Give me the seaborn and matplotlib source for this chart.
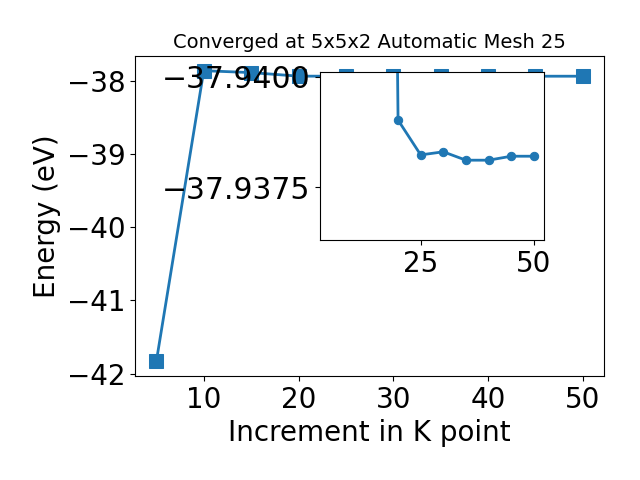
import seaborn as sns
import matplotlib
matplotlib.use("Agg")
import matplotlib.pyplot as plt

# k-point increments and total energies (eV)
kpoints = [5, 10, 15, 20, 25, 30, 35, 40, 45, 50]
energy = [-41.83, -37.864, -37.89, -37.93848, -37.93927, -37.93920,
          -37.93939, -37.93939, -37.93930, -37.93930]

# inset ticks (labels as printed on the chart)
inset_xticks = [25, 50]
inset_yticks = [-37.9375, -37.9400]
inset_yticklabels = ['\u221237.9400', '\u221237.9375']

color = sns.color_palette()[0]

fig = plt.figure(figsize=(6.4, 4.8), dpi=100)
ax = fig.add_axes([0.211, 0.217, 0.733, 0.666])
sns.lineplot(x=kpoints, y=energy, ax=ax, color=color, marker='s',
             markersize=10, linewidth=2, markeredgecolor=color)
ax.set_title("Converged at 5x5x2 Automatic Mesh 25", fontsize=14)
ax.set_xlabel("Increment in K point", fontsize=20)
ax.set_ylabel("Energy (eV)", fontsize=20)
ax.set_xticks([10, 20, 30, 40, 50])
ax.set_yticks([-42, -41, -40, -39, -38])
ax.tick_params(labelsize=20)

# zoomed inset on the converged region (first point left out)
axins = fig.add_axes([0.5, 0.5, 0.35, 0.35])
sns.lineplot(x=kpoints[1:], y=energy[1:], ax=axins, color=color, marker='o',
             markersize=6, linewidth=2, markeredgecolor=color)
axins.set_xlim(ax.get_xlim())
axins.set_ylim(-37.94120, -37.93739)
axins.set_xticks(inset_xticks)
axins.set_yticks(inset_yticks, labels=inset_yticklabels)
axins.tick_params(axis='x', labelsize=20)
axins.tick_params(axis='y', labelsize=21.5)

plt.savefig("out.png", dpi=100)
